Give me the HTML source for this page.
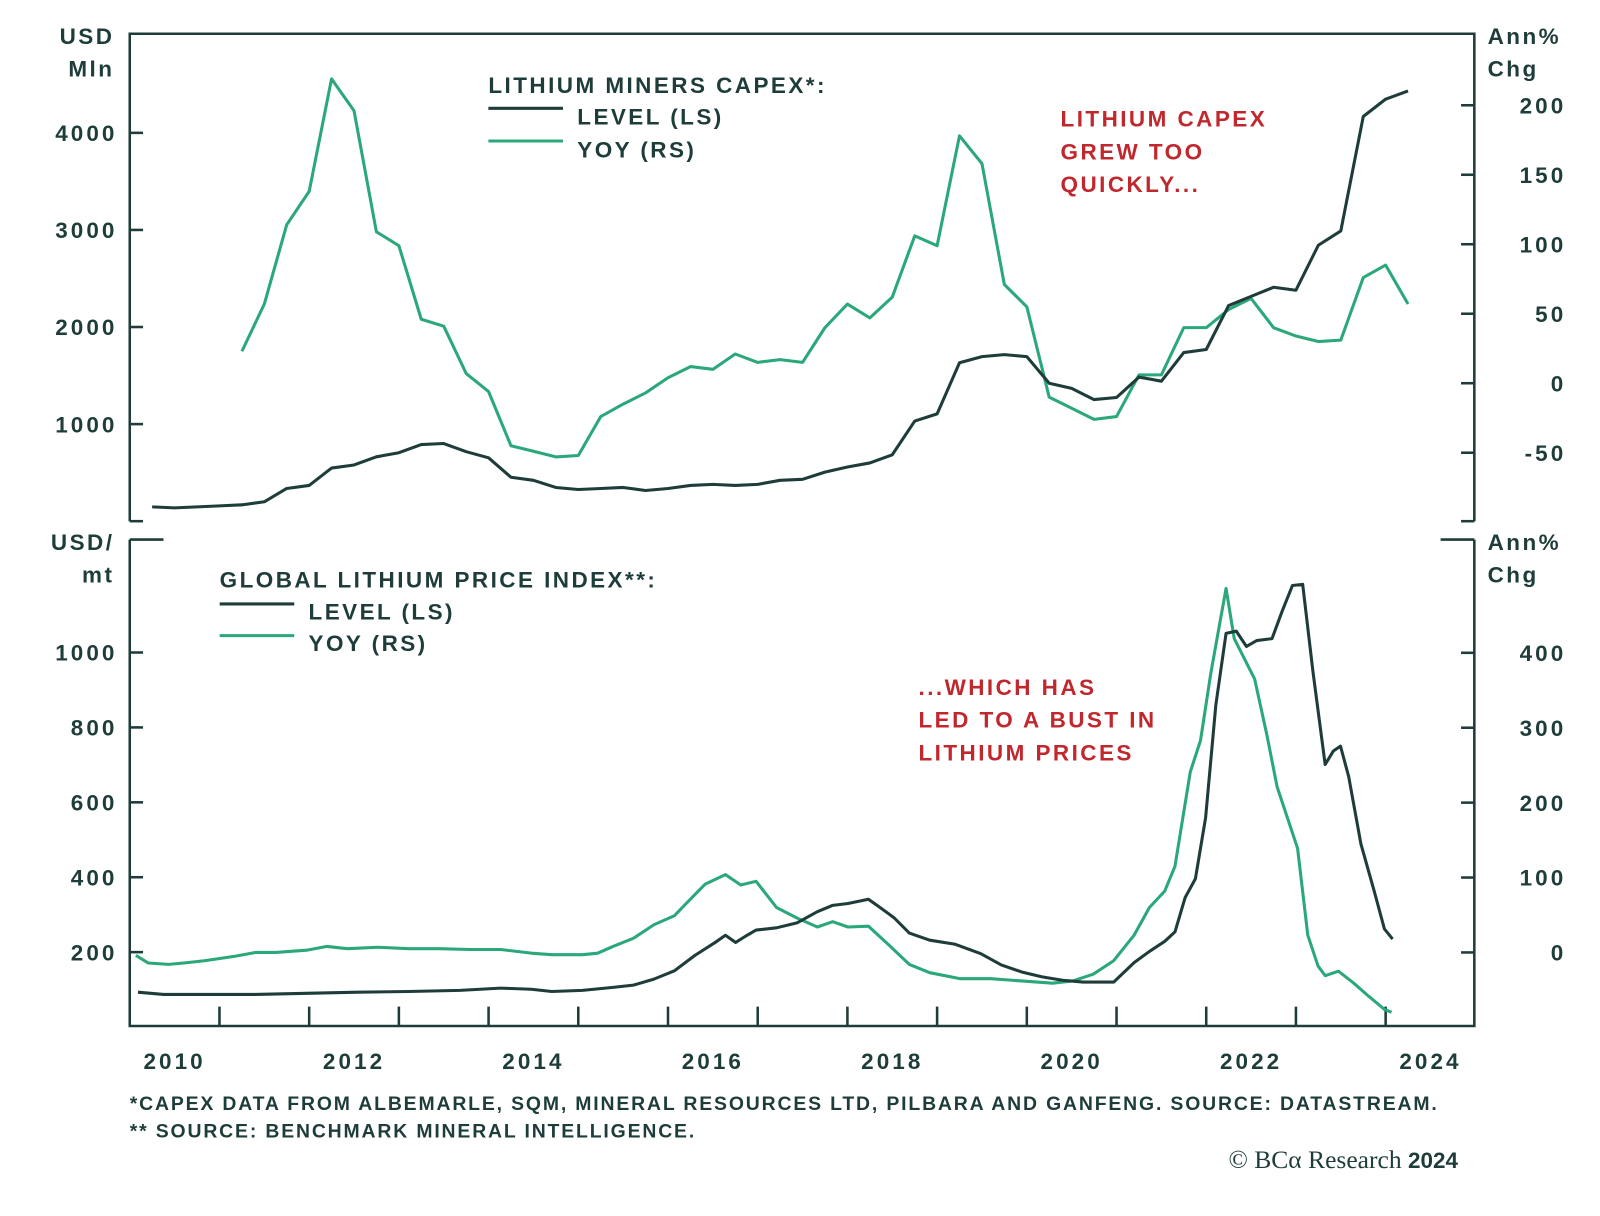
<!DOCTYPE html>
<html><head><meta charset="utf-8"><style>
html,body{margin:0;padding:0;background:#fff;}
svg text{font-family:"Liberation Sans",sans-serif;font-weight:bold;}
#labels text{letter-spacing:3px;}
.big text{letter-spacing:2.4px;}
.foot text{letter-spacing:1.8px;}
</style></head><body>
<svg id="chart" width="1600" height="1211" viewBox="0 0 1566 1185" preserveAspectRatio="none" xmlns="http://www.w3.org/2000/svg">
<g id="frames" fill="none" stroke="#1e3d3a" stroke-width="2.5">
<polyline points="127,510 127,33 1443,33 1443,510"/>
<polyline points="127,528 127,1004 1443,1004 1443,528"/>
<line x1="127" y1="510" x2="140" y2="510"/><line x1="1430" y1="510" x2="1443" y2="510"/>
<line x1="127" y1="528" x2="160" y2="528"/><line x1="1410" y1="528" x2="1443" y2="528"/>
</g>
<g id="ticks" stroke="#1e3d3a" stroke-width="2.5"></g>
<g id="labels" fill="#1e3d3a" font-size="22"></g>
<g id="series" fill="none" stroke-width="3" stroke-linejoin="round"></g>
<g class="big" fill="#1e3d3a" font-size="22">
<text x="112" y="43" text-anchor="end">USD</text>
<text x="112" y="75" text-anchor="end">Mln</text>
<text x="1456" y="43">Ann%</text>
<text x="1456" y="75">Chg</text>
<text x="112" y="538" text-anchor="end">USD/</text>
<text x="112" y="570" text-anchor="end">mt</text>
<text x="1456" y="538">Ann%</text>
<text x="1456" y="570">Chg</text>
<text x="478" y="91">LITHIUM MINERS CAPEX*:</text>
<line x1="478" y1="106" x2="551" y2="106" stroke="#1e3d3a" stroke-width="3"/>
<text x="565" y="122">LEVEL (LS)</text>
<line x1="478" y1="138" x2="551" y2="138" stroke="#2ba87a" stroke-width="3"/>
<text x="565" y="154">YOY (RS)</text>
<text x="215" y="575">GLOBAL LITHIUM PRICE INDEX**:</text>
<line x1="215" y1="591" x2="288" y2="591" stroke="#1e3d3a" stroke-width="3"/>
<text x="302" y="606">LEVEL (LS)</text>
<line x1="215" y1="622" x2="288" y2="622" stroke="#2ba87a" stroke-width="3"/>
<text x="302" y="637">YOY (RS)</text>
</g>
<g class="big" fill="#c0282e" font-size="22">
<text x="1038" y="124">LITHIUM CAPEX</text>
<text x="1038" y="156">GREW TOO</text>
<text x="1038" y="188">QUICKLY...</text>
<text x="899" y="680">...WHICH HAS</text>
<text x="899" y="712">LED TO A BUST IN</text>
<text x="899" y="744">LITHIUM PRICES</text>
</g>
<g class="foot" fill="#1e3d3a" font-size="19" font-weight="normal">
<text x="127" y="1086">*CAPEX DATA FROM ALBEMARLE, SQM, MINERAL RESOURCES LTD, PILBARA AND GANFENG. SOURCE: DATASTREAM.</text>
<text x="127" y="1113">** SOURCE: BENCHMARK MINERAL INTELLIGENCE.</text>
</g>
<text x="1427" y="1143" text-anchor="end" font-size="25" fill="#1e3d3a" style="font-family:'Liberation Serif',serif;font-weight:normal">© BCα Research <tspan font-family="Liberation Sans" font-weight="bold" font-size="22">2024</tspan></text>
</svg>
<script>
const capexLevel=[147,137,147,158,168,200,337,368,547,579,663,705,789,800,716,653,453,421,347,326,337,347,316,337,368,379,368,379,421,432,505,558,600,684,1032,1105,1632,1695,1716,1695,1421,1368,1253,1274,1484,1442,1737,1768,2221,2316,2410,2379,2842,2989,4168,4347,4432];
const capexYoy=[23,57,114,138,219,196,109,99,46,41,7,-6,-45,-49,-53,-52,-24,-15,-7,4,12,10,21,15,17,15,40,57,47,62,106,99,178,158,71,55,-10,-18,-26,-24,6,6,40,40,53,61,40,34,30,31,76,85,57];
const priceLevelX=[135,160,200,250,300,350,400,450,490,520,540,570,600,620,640,660,680,700,710,720,730,740,760,780,800,815,830,850,860,875,890,910,935,960,980,1000,1020,1040,1060,1090,1110,1125,1140,1150,1160,1170,1180,1190,1200,1210,1220,1230,1245,1255,1265,1275,1285,1297,1305,1312,1320,1332,1345,1355,1363];
const priceLevel=[93,87,87,87,90,93,95,98,104,101,95,98,106,112,128,150,191,226,245,226,243,259,265,278,308,325,330,341,322,292,251,232,221,196,166,147,134,125,120,120,172,202,229,254,346,396,559,860,1051,1057,1016,1032,1037,1111,1179,1182,950,701,737,750,669,489,363,262,235];
const priceYoyX=[133,145,165,180,200,215,230,250,270,300,320,340,370,400,430,460,490,520,540,570,585,600,620,640,660,670,690,710,725,740,760,780,800,815,830,850,870,890,910,940,970,1000,1030,1050,1070,1090,1110,1125,1140,1150,1165,1175,1185,1193,1200,1208,1218,1228,1240,1250,1260,1270,1280,1290,1297,1310,1325,1340,1355,1362];
const priceYoy=[-4,-14,-16,-14,-11,-8,-5,0,0,3,8,5,7,5,5,4,4,-1,-3,-3,-1,8,19,37,49,63,91,104,90,95,60,46,34,41,34,35,10,-16,-27,-35,-35,-38,-41,-38,-29,-11,23,60,82,115,241,283,372,433,486,419,392,365,290,221,180,139,23,-18,-31,-25,-41,-59,-76,-80];
const leftTopTicks=[1000,2000,3000,4000];
const rightTopTicks=[-50,0,50,100,150,200];
const leftBotTicks=[200,400,600,800,1000];
const rightBotTicks=[0,100,200,300,400];
const yearLabels=[2010,2012,2014,2016,2018,2020,2022,2024];

const xT=t=>127+(t-2010)*87.8;
const yTL=v=>510-v*0.095;
const yTR=v=>375-v*1.36;
const yBL=v=>1005-v*0.3665;
const yBR=v=>932-v*0.733;
const NS='http://www.w3.org/2000/svg';
const ticks=document.getElementById('ticks'),labels=document.getElementById('labels'),series=document.getElementById('series');
function ln(x1,y1,x2,y2){const l=document.createElementNS(NS,'line');l.setAttribute('x1',x1);l.setAttribute('y1',y1);l.setAttribute('x2',x2);l.setAttribute('y2',y2);


ticks.appendChild(l);}
function tx(x,y,s,anchor,name){const t=document.createElementNS(NS,'text');t.setAttribute('x',x);t.setAttribute('y',y);t.setAttribute('text-anchor',anchor);t.textContent=s;


labels.appendChild(t);}
leftTopTicks.forEach(v=>{const y=yTL(v);ln(127,y,140,y);tx(115,y+8,v,'end','top-left-tick-label');});
rightTopTicks.forEach(v=>{const y=yTR(v);ln(1430,y,1443,y);tx(1533,y+8,v,'end','top-right-tick-label');});
leftBotTicks.forEach(v=>{const y=yBL(v);ln(127,y,140,y);tx(115,y+8,v,'end','bottom-left-tick-label');});
rightBotTicks.forEach(v=>{const y=yBR(v);ln(1430,y,1443,y);tx(1533,y+8,v,'end','bottom-right-tick-label');});
for(let yr=2011;yr<=2024;yr++){const x=xT(yr);ln(x,1004,x,985);}
yearLabels.forEach(yr=>tx(xT(yr+0.5),1046,yr,'middle','x-axis-year-label'));
function path(pts,color,name){const p=document.createElementNS(NS,'polyline');p.setAttribute('points',pts.map(a=>a[0].toFixed(1)+','+a[1].toFixed(1)).join(' '));p.setAttribute('stroke',color);


series.appendChild(p);}
path(capexYoy.map((v,i)=>[xT(2011.25+i*0.25),yTR(v)]),'#2ba87a','capex-yoy-line');
path(capexLevel.map((v,i)=>[xT(2010.25+i*0.25),yTL(v)]),'#1e3d3a','capex-level-line');
path(priceYoy.map((v,i)=>[xT(2010+(priceYoyX[i]-127)/87.8),yBR(v)]),'#2ba87a','price-yoy-line');
path(priceLevel.map((v,i)=>[xT(2010+(priceLevelX[i]-127)/87.8),yBL(v)]),'#1e3d3a','price-level-line');
</script>
</body></html>
